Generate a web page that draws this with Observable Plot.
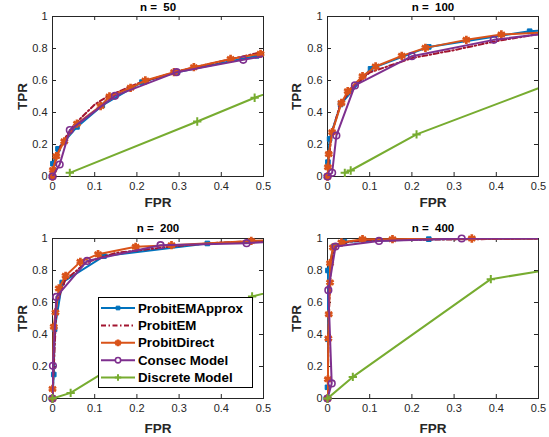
<!DOCTYPE html>
<html><head><meta charset="utf-8">
<script src="https://cdn.jsdelivr.net/npm/d3@7"></script>
<script src="https://cdn.jsdelivr.net/npm/@observablehq/plot@0.6"></script>
<style>
body{margin:0;background:#fff;}
#wrap{position:relative;width:549px;height:437px;background:#fff;overflow:hidden;}
.panel{position:absolute;}
</style></head><body><div id="wrap"></div>
<script>
// ---------- data (FPR, TPR) ----------
const panelN = [50, 100, 200, 400];
const seriesNames = ["ProbitEMApprox", "ProbitEM", "ProbitDirect", "Consec Model", "Discrete Model"];
const xTicks = [0, 0.1, 0.2, 0.3, 0.4, 0.5];
const yTicks = [0, 0.2, 0.4, 0.6, 0.8, 1];

// n = 50
const approx50 = [[0,0],[0.001,0.08],[0.013,0.173],[0.058,0.31],[0.118,0.444],[0.212,0.59],[0.295,0.652],[0.484,0.754],[0.55,0.77]];
const em50 = [[0,0],[0.003,0.06],[0.02,0.2],[0.05,0.32],[0.1,0.45],[0.13,0.5],[0.2,0.58],[0.3,0.66],[0.4,0.72],[0.5,0.78],[0.55,0.8]];
const direct50 = [[0,0],[0.001,0.04],[0.009,0.127],[0.028,0.22],[0.058,0.33],[0.114,0.44],[0.135,0.5],[0.185,0.554],[0.22,0.6],[0.288,0.652],[0.335,0.683],[0.422,0.735],[0.493,0.767],[0.55,0.79]];
const consec50 = [[0,0],[0.017,0.075],[0.041,0.29],[0.148,0.504],[0.294,0.652],[0.452,0.729],[0.55,0.776]];
const discrete50 = [[0.041,0.023],[0.343,0.344],[0.479,0.492],[0.55,0.56]];

// n = 100
const approx100 = [[0,0],[0.001,0.09],[0.005,0.235],[0.031,0.45],[0.102,0.673],[0.24,0.81],[0.479,0.908],[0.55,0.92]];
const em100 = [[0,0],[0.003,0.1],[0.01,0.27],[0.03,0.45],[0.06,0.56],[0.1,0.65],[0.2,0.74],[0.3,0.79],[0.4,0.846],[0.5,0.89],[0.55,0.9]];
const direct100 = [[0,0],[0.001,0.058],[0.003,0.14],[0.011,0.277],[0.033,0.46],[0.048,0.533],[0.083,0.627],[0.114,0.6875],[0.176,0.754],[0.232,0.804],[0.329,0.854],[0.412,0.8875],[0.55,0.904]];
const consec100 = [[0,0],[0.011,0.023],[0.021,0.256],[0.065,0.569],[0.2,0.752],[0.394,0.854],[0.55,0.904]];
const discrete100 = [[0.041,0.023],[0.055,0.0375],[0.211,0.263],[0.55,0.602]];

// n = 200
const approx200 = [[0,0],[0.003,0.15],[0.005,0.433],[0.023,0.725],[0.122,0.89],[0.367,0.969],[0.55,0.985]];
const em200 = [[0,0],[0.003,0.2],[0.01,0.6],[0.03,0.74],[0.08,0.85],[0.15,0.91],[0.3,0.955],[0.4,0.975],[0.5,0.985],[0.55,0.99]];
const direct200 = [[0,0],[0,0.06],[0.003,0.448],[0.007,0.5375],[0.015,0.6875],[0.031,0.767],[0.066,0.854],[0.108,0.902],[0.197,0.948],[0.282,0.958],[0.471,0.985],[0.55,0.99]];
const consec200 = [[0,0],[0.001,0.204],[0.009,0.635],[0.082,0.86],[0.256,0.958],[0.46,0.971],[0.55,0.985]];
const discrete200 = [[0,0],[0.043,0.035],[0.2,0.29],[0.473,0.6375],[0.55,0.69]];

// n = 400
const approx400 = [[0,0],[0,0.07],[0.001,0.37],[0.001,0.8],[0.015,0.95],[0.04,0.98],[0.24,0.996],[0.55,1]];
const em400 = [[0,0],[0.003,0.5],[0.008,0.85],[0.02,0.95],[0.05,0.98],[0.1,0.99],[0.55,1]];
const direct400 = [[0,0],[0.001,0.12],[0.002,0.375],[0.003,0.527],[0.006,0.725],[0.006,0.846],[0.013,0.944],[0.033,0.975],[0.083,0.996],[0.154,0.996],[0.342,1],[0.55,1]];
const consec400 = [[0,0],[0.01,0.094],[0.002,0.677],[0.019,0.95],[0.122,0.985],[0.318,1],[0.55,1]];
const discrete400 = [[0,0],[0.06,0.135],[0.387,0.746],[0.55,0.815]];

const panelSeries = [
  [approx50, em50, direct50, consec50, discrete50],
  [approx100, em100, direct100, consec100, discrete100],
  [approx200, em200, direct200, consec200, discrete200],
  [approx400, em400, direct400, consec400, discrete400]
];

// ---------- styles ----------
const ink = "#262626";
const font = "'Liberation Sans', Arial, Helvetica, sans-serif";
const styles = [
  {color: "#0072BD", symbol: "square", r: 2.6, filled: true},
  {color: "#A2142F", dash: "5,2.5,1.5,2.5"},
  {color: "#D95319", symbol: "asterisk", r: 3.9, sw: 2.7},
  {color: "#7E2F8E", symbol: "circle", r: 3.3, sw: 1.6},
  {color: "#77AC30", symbol: "plus", r: 2.8, sw: 2}
];
const layout = [
  {left: 0, top: 0, ml: 52, titleDy: -9, labelDy: 26},
  {left: 274, top: 0, ml: 53, titleDy: -9, labelDy: 26},
  {left: 0, top: 222, ml: 52, titleDy: -10, labelDy: 30},
  {left: 274, top: 222, ml: 53, titleDy: -10, labelDy: 30}
];

const wrap = document.getElementById("wrap");
const X = d => d[0], Y = d => d[1];

panelN.forEach((n, p) => {
  const L = layout[p];
  const W = 275, H = 215;
  const mr = W - L.ml - 211;
  const marks = [
    Plot.frame({stroke: ink, strokeWidth: 1}),
    Plot.ruleX(xTicks, {x: d => d, y1: 0, y2: 0.025, stroke: ink}),
    Plot.ruleX(xTicks, {x: d => d, y1: 1, y2: 0.975, stroke: ink}),
    Plot.ruleY(yTicks, {y: d => d, x1: 0, x2: 0.0095, stroke: ink}),
    Plot.ruleY(yTicks, {y: d => d, x1: 0.5, x2: 0.4905, stroke: ink}),
    Plot.axisX(xTicks, {tickSize: 0, tickPadding: 6, tickFormat: d => String(d), fontSize: 11, color: ink, label: null}),
    Plot.axisY(yTicks, {tickSize: 0, tickPadding: 5, tickFormat: d => String(d), fontSize: 11, color: ink, label: null}),
    Plot.text([`n = \u00a0${n}`], {text: d => d, frameAnchor: "top", lineAnchor: "middle", textAnchor: "middle", dy: L.titleDy, fontWeight: "bold", fontSize: 11.5, fill: "#000"}),
    Plot.text(["FPR"], {text: d => d, frameAnchor: "bottom", lineAnchor: "middle", textAnchor: "middle", dy: L.labelDy, fontWeight: "bold", fontSize: 13.5, fill: ink}),
    Plot.text(["TPR"], {text: d => d, frameAnchor: "left", lineAnchor: "middle", textAnchor: "middle", rotate: -90, dx: -(L.ml - 22), fontWeight: "bold", fontSize: 13.5, fill: ink})
  ];
  panelSeries[p].forEach((data, i) => {
    const s = styles[i];
    marks.push(Plot.line(data, {x: X, y: Y, stroke: s.color, strokeWidth: 2, strokeDasharray: s.dash, clip: true}));
    if (s.symbol) {
      marks.push(Plot.dot(data, {
        x: X, y: Y, symbol: () => s.symbol, r: s.r,
        fill: s.filled ? s.color : "none", stroke: s.color, strokeWidth: s.sw || 1,
        filter: d => d[0] <= 0.5
      }));
    }
  });
  const svg = Plot.plot({
    width: W, height: H,
    marginLeft: L.ml, marginRight: mr, marginTop: 16, marginBottom: H - 16 - 160,
    x: {domain: [0, 0.5]},
    y: {domain: [0, 1]},
    symbol: {type: "identity"},
    style: {fontFamily: font, background: "transparent", overflow: "visible"},
    marks
  });
  const div = document.createElement("div");
  div.className = "panel";
  div.style.left = L.left + "px";
  div.style.top = L.top + "px";
  div.appendChild(svg);
  wrap.appendChild(div);
});

// ---------- legend (drawn in panel n = 200) ----------
const symMap = {square: d3.symbolSquare, asterisk: d3.symbolAsterisk, circle: d3.symbolCircle, plus: d3.symbolPlus};
const lw = 155, lh = 91;
const leg = d3.select(wrap).append("svg")
  .attr("width", lw).attr("height", lh)
  .style("position", "absolute").style("left", "98px").style("top", "297px");
leg.append("rect").attr("x", 0.5).attr("y", 0.5).attr("width", lw - 1).attr("height", lh - 1)
  .attr("fill", "#fff").attr("stroke", "#000").attr("stroke-width", 1);
seriesNames.forEach((name, i) => {
  const s = styles[i];
  const cy = 11 + i * 17.4;
  const g = leg.append("g");
  g.append("line").attr("x1", 3).attr("x2", 37).attr("y1", cy).attr("y2", cy)
    .attr("stroke", s.color).attr("stroke-width", 2).attr("stroke-dasharray", s.dash || null);
  if (s.symbol) {
    const size = Math.PI * (s.r * 0.8) ** 2;
    g.append("path").attr("d", d3.symbol(symMap[s.symbol], size)())
      .attr("transform", `translate(20,${cy})`)
      .attr("fill", s.filled ? s.color : (s.symbol === "circle" ? "#fff" : "none"))
      .attr("stroke", s.color).attr("stroke-width", s.sw || 1);
  }
  g.append("text").attr("x", 40).attr("y", cy).attr("dy", "0.35em")
    .attr("font-family", font).attr("font-weight", "bold").attr("font-size", 13.3)
    .attr("fill", "#000").text(name);
});
</script></body></html>
